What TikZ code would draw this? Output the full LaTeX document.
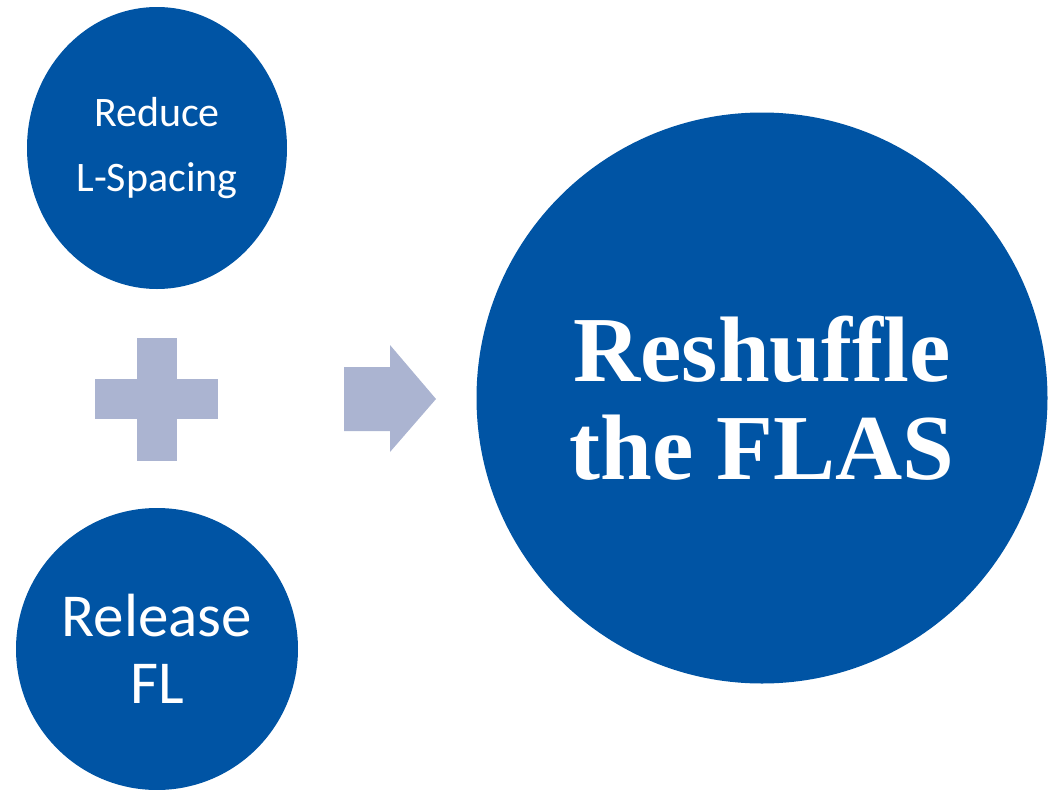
\documentclass[tikz,border=0pt]{standalone}
\usepackage{fontspec}
\setmainfont{Liberation Serif}
\newfontfamily\bodyfont{Carlito}
\usetikzlibrary{calc}
\usetikzlibrary{shapes.geometric}
\definecolor{flasblue}{RGB}{0,84,164}
\definecolor{signgrey}{RGB}{171,180,209}

\begin{document}
\begin{tikzpicture}[
        x=1pt, y=-1pt,
        bubble/.style={fill=flasblue, draw=none, text=white,
                       inner sep=0pt, align=center},
        signfill/.style={fill=signgrey, draw=none},
      ]
      \useasboundingbox (0,0) rectangle (1061,790);
      % Inputs
      \node[bubble, ellipse, minimum width=260pt, minimum height=282pt,
            font={\bodyfont\fontsize{42}{65}\selectfont}]
            (reduce) at (157,148) {Reduce\\L-Spacing};
      \node[bubble, circle, minimum size=282pt,
            font={\bodyfont\fontsize{61}{67}\selectfont}]
            (release) at (157,649) {Release\\FL};
      % Result
      \node[bubble, circle, minimum size=571pt,
            font={\bfseries\fontsize{93}{98}\selectfont}]
            (reshuffle) at (762,398) {Reshuffle\\the FLAS};
      % Plus sign between the inputs
      \coordinate (plus) at ($(reduce)!0.5!(release)$);
      \fill[signfill] ($(plus)+(-62,-20)$) rectangle ($(plus)+(61,20)$);
      \fill[signfill] ($(plus)+(-20,-61)$) rectangle ($(plus)+(20,62)$);
      % Block arrow towards the result
      \coordinate (tip) at (436,399);
      \fill[signfill] ($(tip)+(-92,-32)$) -- ($(tip)+(-46,-32)$) -- ($(tip)+(-46,-54)$)
        -- (tip) -- ($(tip)+(-46,53)$) -- ($(tip)+(-46,32)$) -- ($(tip)+(-92,32)$) -- cycle;
    \end{tikzpicture}
\end{document}
